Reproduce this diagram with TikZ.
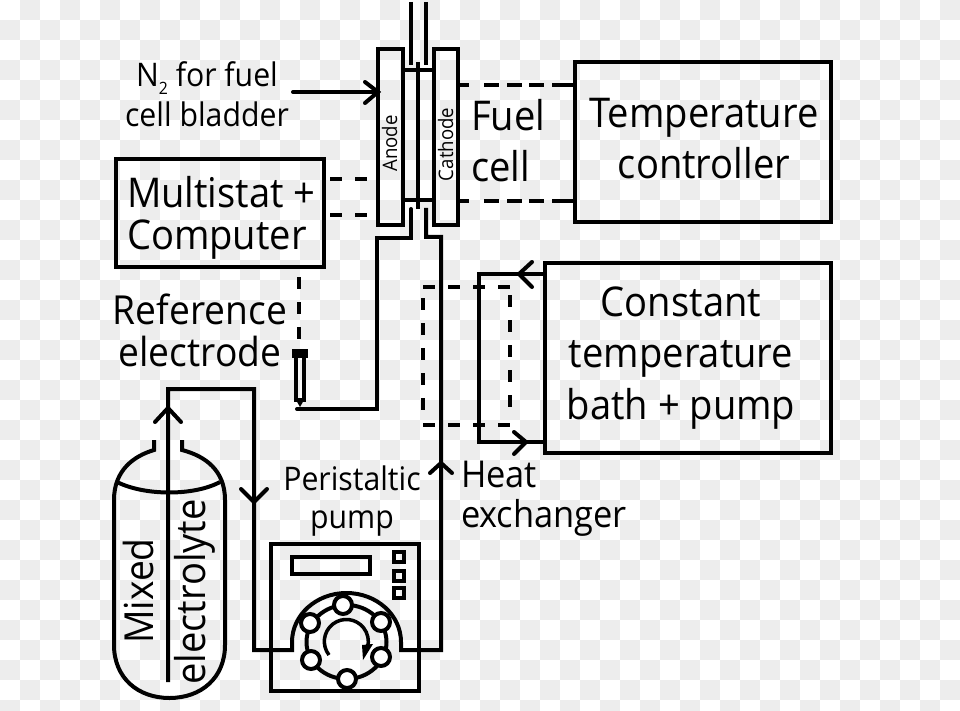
\documentclass[tikz,border=0pt]{standalone}
\usepackage{fontspec}
\setmainfont[FakeStretch=0.93]{Open Sans}
\definecolor{tile}{HTML}{EDEDED}
\newcommand{\sz}[2]{\fontsize{#1}{#2}\selectfont}
\tikzset{
  x=1pt,y=-1pt,
  pipe/.style={draw=black,line width=4pt,line join=miter},
  hose/.style={pipe,line cap=round},
  dashline/.style={draw=black,line width=4pt,dash pattern=on 12pt off 13pt},
  dashlong/.style={draw=black,line width=4pt,dash pattern=on 11pt off 15pt on 15pt off 8pt on 15pt off 7pt on 15pt off 8pt on 22pt off 1pt},
  box/.style={draw=black,line width=4pt,rectangle,inner sep=0pt,outer sep=0pt},
  roller/.style={draw=black,fill=white,line width=4pt,circle,minimum size=18pt,inner sep=0pt,outer sep=0pt},
  tag/.style={inner sep=0pt,outer sep=0pt,align=center,text=black,anchor=base},
  key/.style={draw=black,line width=4pt,rectangle,minimum size=10pt,inner sep=0pt},
}
\begin{document}
\begin{tikzpicture}
\useasboundingbox (0,0) rectangle (960,711);
\fill[white] (0,0) rectangle (960,711);
\begin{scope}
\clip (0,0) rectangle (960,711);
\foreach \i in {0,...,47}{\foreach \j in {0,...,35}{
  \pgfmathparse{int(mod(\i+\j,2))}
  \ifnum\pgfmathresult=1 \fill[tile] (20*\i,20*\j) rectangle ++(20,20);\fi
}}
\end{scope}
% Fuel cell
\node[box,minimum width=25pt,minimum height=176pt] (anode) at (390.5,137) {};
\node[box,minimum width=24pt,minimum height=176pt] (cathode) at (446,137) {};
\node[tag,rotate=90,font=\sz{20}{24}] (anodetxt) at (397,143.5) {Anode};
\node[tag,rotate=90,font=\sz{20}{24}] (cathodetxt) at (453,144.5) {Cathode};
\coordinate (midtl) at (anode.east |- 0,70);
\coordinate (midtr) at (cathode.west |- 0,70);
\coordinate (midbl) at (anode.east |- 0,200);
\coordinate (midbr) at (cathode.west |- 0,200);
\draw[pipe] (midtl) -- (midtr);
\draw[pipe] (midbl) -- (midbr);
\coordinate (memt) at (418,62);
\coordinate (memb) at (418,209);
\draw[pipe] (memt) -- (memb);
\coordinate (ttl) at (411,2); \coordinate (tbl) at (411,65);
\coordinate (ttr) at (426,2); \coordinate (tbr) at (426,65);
\draw[pipe] (ttl) -- (tbl);
\draw[pipe] (ttr) -- (tbr);
% boxes
\node[box,minimum width=256pt,minimum height=160pt] (tc) at (703,142) {};
\node[box,minimum width=286pt,minimum height=190pt] (bath) at (688,358) {};
\node[box,minimum width=208pt,minimum height=108pt] (multi) at (219.5,213) {};
% labels
\node[tag,font=\sz{41}{51}] (tctext) at (704,179) {Temperature\\controller};
\node[tag,font=\sz{41}{51.5}] (bathtext) at (681,419) {Constant\\temperature\\bath + pump};
\node[tag,align=left,anchor=base west,font=\sz{41}{42}] (multitext) at (127,249) {Multistat +\\Computer};
\node[tag,font=\sz{32.5}{40}] (n2) at (207,127) {N\raisebox{-8pt}{\sz{17}{17}2} for fuel\\cell bladder};
\node[tag,font=\sz{40}{42}] (reflab) at (200,366) {Reference\\electrode};
\node[tag,align=left,anchor=base west,font=\sz{41}{51}] (fuel) at (471,182) {Fuel\\cell};
\node[tag,align=left,anchor=base west,font=\sz{37}{40}] (heat) at (461,527) {Heat\\exchanger};
\node[tag,font=\sz{32.5}{38}] (perist) at (352,528) {Peristaltic\\pump};
% N2 arrow
\coordinate (n2s) at (293,92);
\coordinate (n2t) at (anode.west |- n2s);
\draw[hose] (n2s) -- (n2t);
\draw[hose] (365,82) -- (n2t) -- (365,103);
% electrical dashes
\draw[dashline] (330,179) -- (anode.west |- 0,179);
\draw[dashline] (330,215) -- (anode.west |- 0,215);
\draw[dashlong] (cathode.east |- 0,85) -- (tc.west |- 0,85);
\draw[dashlong] (cathode.east |- 0,201) -- (tc.west |- 0,201);
\coordinate (reft) at (299,277);
\coordinate (refb) at (299,340);
\draw[dashline] (reft) -- (refb);
% reference electrode
\fill (292,349) rectangle (308,358);
\draw[draw=black,line width=3.5pt] (296,358) -- (296,400) -- (304,400) -- (304,358);
\fill (296,400) -- (304,400) -- (300,407) -- cycle;
% anode tube to electrode
\coordinate (tb1) at (411,209); \coordinate (tb2) at (411,238); \coordinate (tb3) at (377,238);
\coordinate (tb4) at (377,409); \coordinate (tb5) at (297,409);
\draw[pipe,line cap=round] (tb1) -- (tb2) -- (tb3) -- (tb4) -- (tb5);
% cathode tube to pump
\coordinate (tc1) at (426,208); \coordinate (tc2) at (426,237); \coordinate (tc3) at (441,237);
\coordinate (tc4) at (441,650); \coordinate (tc5) at (401,650);
% pump box
\node[box,minimum width=148pt,minimum height=147pt] (pump) at (345,617.5) {};
\draw[pipe] (tc1) -- (tc2) -- (tc3) -- (tc4) -- (tc5) -- (401,642)
  arc[start angle=0,end angle=-180,x radius=54.5,y radius=49] -- (292,650) -- (254,650) -- (254,389) -- (168,389) -- (168,682);
\draw[hose] (430,473) -- (441,463) -- (452,473);
\draw[hose] (155,422) -- (168,408) -- (181,422);
\draw[hose] (241,489) -- (254,502) -- (267,489);
% heat exchanger
\draw[dashline] (423,287) -- (510,287);
\draw[dashline] (423,425) -- (510,425);
\draw[dashline] (423,298) -- (423,414);
\draw[dashline] (510,295) -- (510,410);
\draw[pipe] (bath.west |- 0,274) -- (479,274) -- (479,442) -- (bath.west |- 0,442);
\draw[hose] (532,262) -- (519,274) -- (532,287);
\draw[hose] (514,432) -- (526,442) -- (514,454);
% bottle
\draw[pipe] (154,440) -- (154,450) .. controls (134,456) and (114,470) .. (114,500) -- (114,645)
  .. controls (114,678) and (138,698) .. (169.5,698) .. controls (201,698) and (225,678) .. (225,645)
  -- (225,500) .. controls (225,470) and (205,456) .. (182,450) -- (182,440);
\draw[pipe] (117,482) .. controls (145,496) and (194,496) .. (220,482);
\node[tag,rotate=90,font=\sz{40}{44}] (mixed) at (153,591) {Mixed};
\node[tag,rotate=90,font=\sz{41}{44}] (elyte) at (205,592) {electrolyte};
% pump details
\node[box,minimum width=78pt,minimum height=17pt] (display) at (331,565.5) {};
\node[key] (k1) at (399,557) {};
\node[key] (k2) at (399,575.5) {};
\node[key] (k3) at (399,593) {};
\draw[line width=4pt] (346.5,642) circle[x radius=40,y radius=37];
\node[roller] (r1) at (343,605) {};
\node[roller] (r2) at (310,623) {};
\node[roller] (r3) at (381,622) {};
\node[roller] (r4) at (311,660) {};
\node[roller] (r5) at (381,657) {};
\node[roller] (r6) at (347,679) {};
\draw[line width=3.5pt] (329,655) arc[start angle=142,end angle=375,radius=22];
\fill (362,645) -- (373,644) -- (363,660) -- cycle;
\end{tikzpicture}
\end{document}
